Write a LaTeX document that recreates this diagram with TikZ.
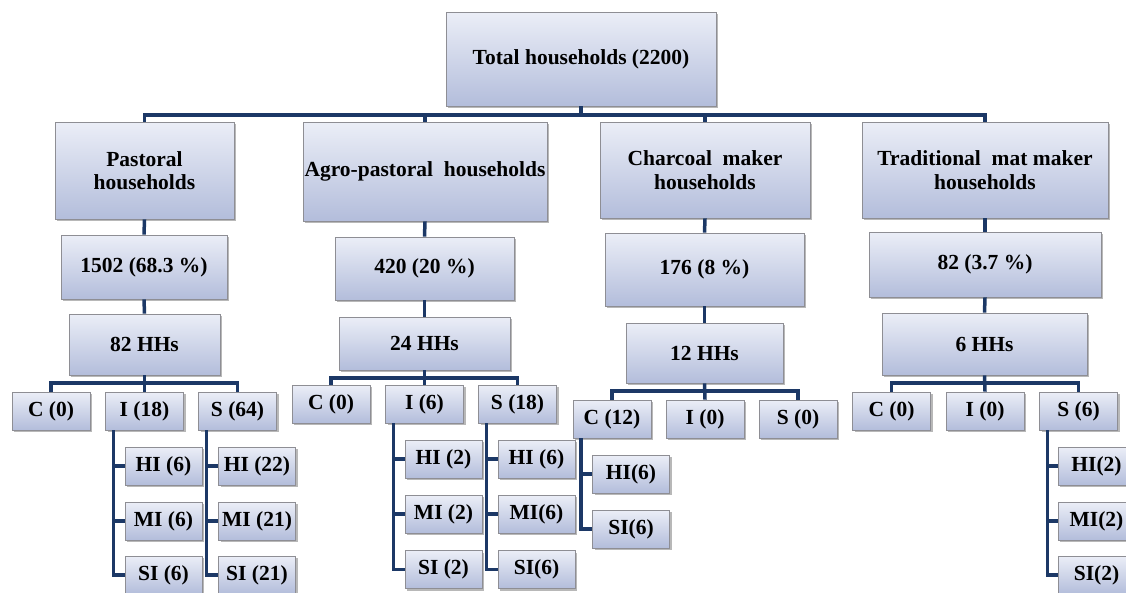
\documentclass[tikz,border=0pt]{standalone}
\usepackage{fontspec}
\setmainfont{Liberation Serif}
\usetikzlibrary{shadows}
\definecolor{linecol}{HTML}{1C3866}
\definecolor{boxtop}{HTML}{EBEEF7}
\definecolor{boxbot}{HTML}{B3BDDB}
\definecolor{boxedge}{HTML}{8E8E94}
\tikzset{
  bx/.style={draw=boxedge, line width=0.8pt, top color=boxtop, bottom color=boxbot,
    drop shadow={shadow xshift=2pt, shadow yshift=-2pt, fill=black!55, opacity=0.5},
    inner sep=0pt, align=center,
    font=\fontsize{21.5}{23.5}\selectfont\bfseries},
  sm/.style={bx, minimum width=78pt, minimum height=38pt},
  lf/.style={bx, minimum width=77pt, minimum height=38pt},
  conn/.style={draw=linecol, line width=3.5pt},
}
\begin{document}
\begin{tikzpicture}[x=1pt,y=-1pt]
\clip (0,0) rectangle (1126,592);
\fill[white] (0,0) rectangle (1126,592);
% top level
\node[bx, minimum width=270pt, minimum height=94pt] (total) at (581,59) {Total households (2200)};
\node[bx, minimum width=179pt, minimum height=97pt] (past) at (144.5,170.5) {Pastoral\\households};
\node[bx, minimum width=244pt, minimum height=99pt] (agro) at (425,171.5) {Agro-pastoral\ \ households};
\node[bx, minimum width=210pt, minimum height=96pt] (char) at (705,170) {Charcoal\ \ maker\\households};
\node[bx, minimum width=246pt, minimum height=96pt] (trad) at (985,170) {Traditional\ \ mat maker\\households};
% numbers
\node[bx, minimum width=166pt, minimum height=64pt] (n1) at (144,267) {1502 (68.3 \%)};
\node[bx, minimum width=179pt, minimum height=63pt] (n2) at (424.5,268.5) {420 (20 \%)};
\node[bx, minimum width=199pt, minimum height=73pt] (n3) at (704.5,269.5) {176 (8 \%)};
\node[bx, minimum width=232pt, minimum height=65pt] (n4) at (985,264.5) {82 (3.7 \%)};
% HHs
\node[bx, minimum width=151pt, minimum height=61pt] (h1) at (144.5,344.5) {82 HHs};
\node[bx, minimum width=171pt, minimum height=53pt] (h2) at (424.5,343.5) {24 HHs};
\node[bx, minimum width=157pt, minimum height=60pt] (h3) at (704.5,353) {12 HHs};
\node[bx, minimum width=205pt, minimum height=62pt] (h4) at (984.5,344) {6 HHs};
% C I S
\node[sm] (pC) at (51,411) {C (0)};
\node[sm] (pI) at (144.5,411) {I (18)};
\node[sm] (pS) at (237.5,411) {S (64)};
\node[sm] (aC) at (331,404) {C (0)};
\node[sm] (aI) at (424.5,404) {I (6)};
\node[sm] (aS) at (517.5,404) {S (18)};
\node[sm] (cC) at (612,419) {C (12)};
\node[sm] (cI) at (705,419) {I (0)};
\node[sm] (cS) at (798,419) {S (0)};
\node[sm] (tC) at (891.5,411) {C (0)};
\node[sm] (tI) at (985,411) {I (0)};
\node[sm] (tS) at (1078.5,411) {S (6)};
% leaves
\node[lf] (pIH) at (163.5,466) {HI (6)};
\node[lf] (pIM) at (163.5,521) {MI (6)};
\node[lf] (pIS) at (163.5,575) {SI (6)};
\node[lf] (pSH) at (257,466) {HI (22)};
\node[lf] (pSM) at (257,521) {MI (21)};
\node[lf] (pSS) at (257,575) {SI (21)};
\node[lf] (aIH) at (443.5,459) {HI (2)};
\node[lf] (aIM) at (443.5,514) {MI (2)};
\node[lf] (aIS) at (443.5,569.5) {SI (2)};
\node[lf] (aSH) at (536.5,459) {HI (6)};
\node[lf] (aSM) at (536.5,514) {MI(6)};
\node[lf] (aSS) at (536.5,569.5) {SI(6)};
\node[lf] (cCH) at (631,474) {HI(6)};
\node[lf] (cCS) at (631,529) {SI(6)};
\node[lf] (tSH) at (1096.5,466) {HI(2)};
\node[lf] (tSM) at (1096.5,521) {MI(2)};
\node[lf] (tSS) at (1096.5,575) {SI(2)};
% bus coordinates
\coordinate (b0) at (0,115);
\coordinate (b1) at (0,383);
\coordinate (b2) at (0,378);
\coordinate (b3) at (0,391);
\coordinate (b4) at (0,383);
% top connectors
\draw[conn] (past.north) -- (past.north |- b0) -- (trad.north |- b0) -- (trad.north);
\draw[conn] (agro.north) -- (agro.north |- b0);
\draw[conn] (char.north) -- (char.north |- b0);
\draw[conn] (total.south) -- (total.south |- b0);
% vertical chains
\foreach \a/\b in {past/n1, n1/h1, agro/n2, n2/h2, char/n3, n3/h3, trad/n4, n4/h4}
  \draw[conn] (\a.south) -- (\b.north);
% sub buses
\draw[conn] (pC.north) -- (pC.north |- b1) -- (pS.north |- b1) -- (pS.north);
\draw[conn] (h1.south) -- (pI.north);
\draw[conn] (aC.north) -- (aC.north |- b2) -- (aS.north |- b2) -- (aS.north);
\draw[conn] (h2.south) -- (aI.north);
\draw[conn] (cC.north) -- (cC.north |- b3) -- (cS.north |- b3) -- (cS.north);
\draw[conn] (h3.south) -- (cI.north);
\draw[conn] (tC.north) -- (tC.north |- b4) -- (tS.north |- b4) -- (tS.north);
\draw[conn] (h4.south) -- (tI.north);
% leaf branches
\foreach \p/\l in {pI/pIH, pI/pIM, pI/pIS, pS/pSH, pS/pSM, pS/pSS,
                   aI/aIH, aI/aIM, aI/aIS, aS/aSH, aS/aSM, aS/aSS,
                   cC/cCH, cC/cCS, tS/tSH, tS/tSM, tS/tSS}
  \draw[conn] ([xshift=8.5pt]\p.south west) |- (\l.west);
\end{tikzpicture}
\end{document}
